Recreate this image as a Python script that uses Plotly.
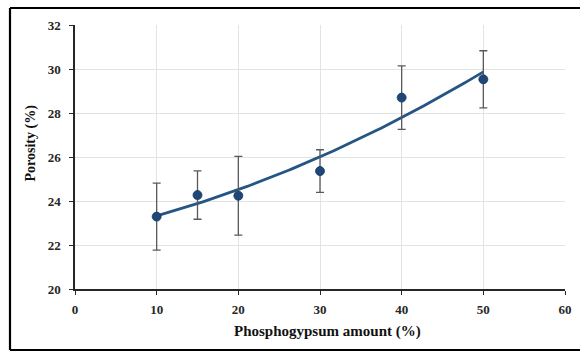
import numpy as np
import plotly.graph_objects as go

amount = [10, 15, 20, 30, 40, 50]
porosity = [23.29, 24.27, 24.24, 25.36, 28.70, 29.53]
err = [1.52, 1.10, 1.79, 0.97, 1.44, 1.30]

x_ticks = [0, 10, 20, 30, 40, 50, 60]
y_ticks = [20, 22, 24, 26, 28, 30, 32]

x_title = "Phosphogypsum amount (%)"
y_title = "Porosity (%)"

coef = np.polyfit(amount, porosity, 2)
xf = np.linspace(min(amount), max(amount), 100)
yf = np.polyval(coef, xf)

fig = go.Figure()
fig.add_trace(go.Scatter(x=xf, y=yf, mode="lines",
                         line=dict(color="#245583", width=2.8),
                         hoverinfo="skip", showlegend=False))
fig.add_trace(go.Scatter(x=amount, y=porosity, mode="markers",
                         marker=dict(color="#1f4677", size=9,
                                     line=dict(color="#173a63", width=0.8)),
                         error_y=dict(type="data", array=err, visible=True,
                                      color="#595959", thickness=1.3, width=4),
                         showlegend=False))

font_fam = "Liberation Serif, Times New Roman, serif"
fig.update_layout(
    width=580, height=352,
    margin=dict(l=75, r=15, t=25, b=63),
    paper_bgcolor="white", plot_bgcolor="white",
    font=dict(family=font_fam, color="#262626"),
    xaxis=dict(range=[0, 60], tickvals=x_ticks, ticktext=["<b>%d</b>" % v for v in x_ticks],
               showgrid=True, gridcolor="#e3e3e3", gridwidth=1,
               showline=True, linecolor="#262626", linewidth=1.5,
               ticks="outside", ticklen=4, tickcolor="#262626",
               tickfont=dict(family=font_fam, size=13, color="#262626"),
               ticklabelstandoff=4,
               automargin=False, zeroline=False, mirror=False),
    yaxis=dict(range=[20, 32], tickvals=y_ticks, ticktext=["<b>%d</b>" % v for v in y_ticks],
               showgrid=True, gridcolor="#e3e3e3", gridwidth=1,
               showline=True, linecolor="#262626", linewidth=1.5,
               ticks="outside", ticklen=4, tickcolor="#262626",
               tickfont=dict(family=font_fam, size=13, color="#262626"),
               ticklabelstandoff=6,
               automargin=False, zeroline=False),
)

fig.add_annotation(text="<b>%s</b>" % x_title, xref="paper", yref="paper",
                   x=(327.5 - 75) / 490, y=-(331 - 289) / 264,
                   xanchor="center", yanchor="middle", showarrow=False,
                   font=dict(family=font_fam, size=15, color="#111111"))
fig.add_annotation(text="<b>%s</b>" % y_title, xref="paper", yref="paper",
                   x=(30 - 75) / 490, y=(289 - 143.5) / 264, textangle=-90,
                   xanchor="center", yanchor="middle", showarrow=False,
                   font=dict(family=font_fam, size=14, color="#111111"))

bl, bt, bb, br = (10 - 75) / 490, 1 + (25 - 8) / 264, -(350 - 289) / 264, 1.06
for x0, y0, x1, y1 in [(bl, bt, br, bt), (bl, bb, br, bb), (bl, bb, bl, bt)]:
    fig.add_shape(type="line", xref="paper", yref="paper", x0=x0, y0=y0, x1=x1, y1=y1,
                  line=dict(color="black", width=2.2))

fig.write_html("out.html", config={"displayModeBar": False},
               post_script="document.body.style.margin='0';document.body.style.overflow='hidden';")
